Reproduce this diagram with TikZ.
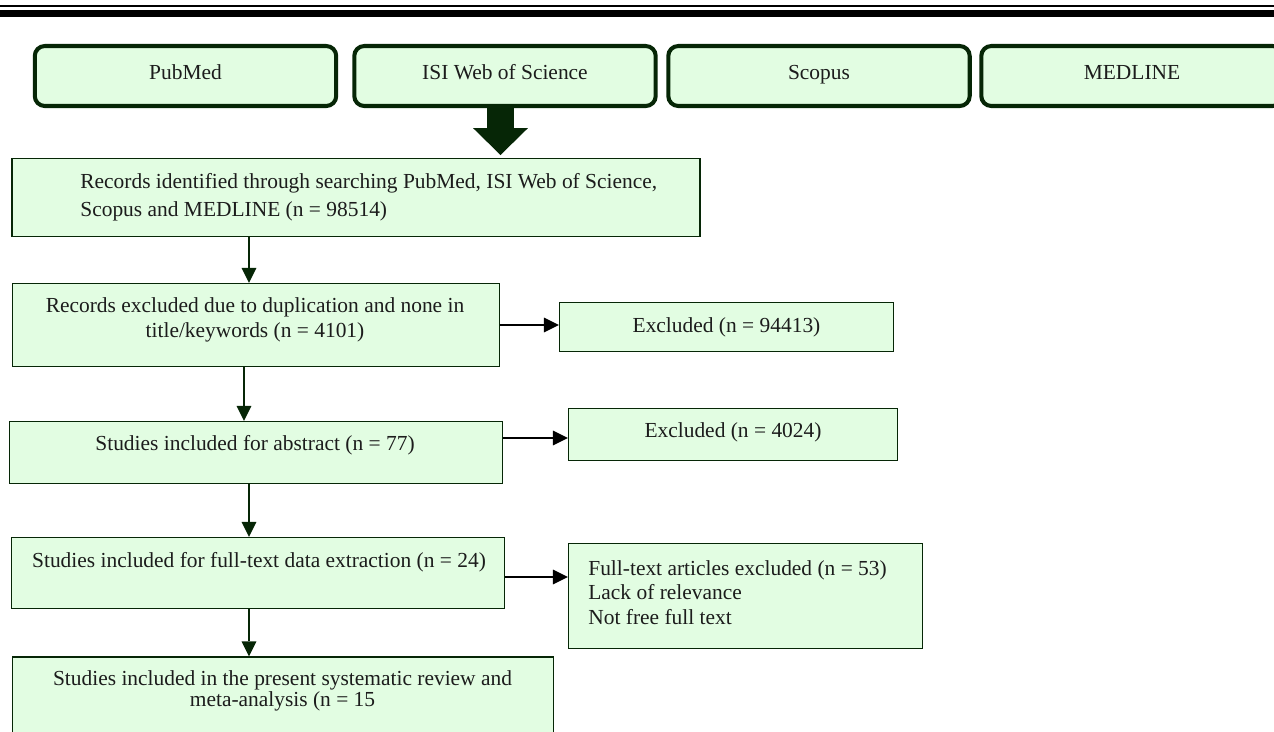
\documentclass[tikz,border=0pt]{standalone}
\usepackage{fontspec}
\setmainfont{Liberation Serif}
\usetikzlibrary{arrows.meta}
\definecolor{mygreen1}{RGB}{226, 253, 226}
\definecolor{mygreen2}{RGB}{6, 38, 6}
\definecolor{mygray1}{RGB}{28, 28, 28}

\begin{document}
\begin{tikzpicture}[
    x = 0.02cm, y = -0.02cm,
    b0/.style = {draw = mygreen2, line width = 2.3pt, rounded corners = 0.2cm, fill = mygreen1, minimum width = 6.03cm, minimum height = 1.2cm, text height = 8.5pt, text depth = 4pt, text = mygray1, font = \fontsize{12.2}{14}\selectfont},
    b1/.style = {draw = mygreen2, line width = 0.85pt, fill = mygreen1, text = mygray1, font = \fontsize{12.2}{14}\selectfont},
    t1/.style = {inner sep = 0pt, text = mygray1, font = \fontsize{12.2}{14}\selectfont},
    a1/.style = {line width = 1.4pt, mygreen2, -{Triangle[length = 8.5pt, width = 8.5pt, line width = 0pt]}},
    a2/.style = {line width = 1.5pt, black, -{Triangle[length = 8.5pt, width = 8.5pt, line width = 0pt]}}
]
\useasboundingbox (0,0) rectangle (1274,731);
\draw[line width = 1.1pt] (0,5.7) -- (1274,5.7);
\draw[line width = 3.8pt] (0,13.4) -- (1274,13.4);

\node[b0] (pubmed) at (185.5,76) {PubMed};
\node[b0] (isi) at (505,76) {ISI Web of Science};
\node[b0] (scopus) at (819,76) {Scopus};
\node[b0] (medline) at (1132,76) {MEDLINE};

\coordinate (tip) at (500.5,155);
\draw[mygreen2, line width = 15.3pt, -{Triangle[length = 15.3pt, width = 31.2pt, line width = 0pt]}] (isi.south -| tip) -- (tip);

\node[b1, minimum width = 13.76cm, minimum height = 1.56cm] (rec) at (356,197.5) {};
\node[t1, anchor = west, align = left, font = \fontsize{12.2}{15.9}\selectfont] (rectxt) at (80,197) {Records identified through searching PubMed, ISI Web of Science,\\ Scopus and MEDLINE (n = 98514)};

\node[b1, minimum width = 9.74cm, minimum height = 1.66cm] (dup) at (256,325) {};
\node[t1, align = center, font = \fontsize{12.2}{14.2}\selectfont] (duptxt) at (255,319.5) {Records excluded due to duplication and none in\\ title/keywords (n = 4101)};

\node[b1, minimum width = 9.86cm, minimum height = 1.24cm] (abs) at (256,452.5) {};
\node[t1] (abstxt) at (255,445) {Studies included for abstract (n = 77)};

\node[b1, minimum width = 9.86cm, minimum height = 1.42cm] (full) at (258,573) {};
\node[t1] (fulltxt) at (259,562) {Studies included for full-text data extraction (n = 24)};

\node[b1, minimum width = 10.82cm, minimum height = 2cm] (incl) at (283,707) {};
\node[t1, align = center, font = {\fontsize{12.2}{11.6}\selectfont\lineskiplimit=-20pt}] (incltxt) at (282.5,691) {Studies included in the present systematic review and\\ meta-analysis (n = 15};

\node[b1, minimum width = 6.68cm, minimum height = 0.98cm] (exc1) at (726.5,327) {Excluded (n = 94413)};
\node[b1, minimum width = 6.58cm, minimum height = 1.04cm] (exc2) at (733,434.5) {};
\node[t1] (exc2txt) at (733,432) {Excluded (n = 4024)};
\node[b1, minimum width = 7.08cm, minimum height = 2.1cm] (exc3) at (745.5,596) {};
\node[t1, anchor = west, align = left, font = \fontsize{12.2}{13.9}\selectfont] (exc3txt) at (588,592.5) {Full-text articles excluded (n = 53)\\ Lack of relevance\\ Not free full text};

\coordinate (c1) at (249,0);
\coordinate (c2) at (244,0);
\draw[a1] (rec.south -| c1) -- (dup.north -| c1);
\draw[a1] (dup.south -| c2) -- (abs.north -| c2);
\draw[a1] (abs.south -| c1) -- (full.north -| c1);
\draw[a1] (full.south -| c1) -- (incl.north -| c1);

\coordinate (r1) at (0,325);
\coordinate (r2) at (0,438);
\coordinate (r3) at (0,577);
\draw[a2] (dup.east |- r1) -- (exc1.west |- r1);
\draw[a2] (abs.east |- r2) -- (exc2.west |- r2);
\draw[a2] (full.east |- r3) -- (exc3.west |- r3);
\end{tikzpicture}
\end{document}
